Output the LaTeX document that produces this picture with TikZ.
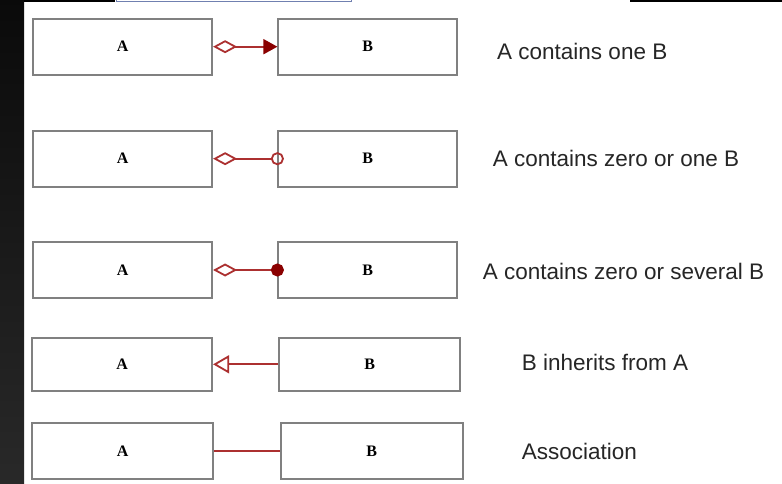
\documentclass[tikz,border=0pt]{standalone}
\usepackage{fontspec}
\setmainfont{Liberation Serif}
\newfontfamily\notefont{Liberation Sans}
\usetikzlibrary{arrows.meta}

\definecolor{umlred}{RGB}{172,48,48}
\definecolor{umldark}{RGB}{138,0,0}
\definecolor{boxgray}{RGB}{128,128,128}
\definecolor{tabblue}{RGB}{112,128,176}

\begin{document}
\begin{tikzpicture}[x=1pt,y=-1pt,
  cls/.style={draw=boxgray, line width=1.8pt, fill=white, inner sep=0pt,
    minimum width=179pt, minimum height=56pt,
    font=\fontsize{16}{19}\selectfont\bfseries},
  note/.style={anchor=base west, inner sep=0pt, text=black!85,
    font=\notefont\fontsize{22.5}{27}\selectfont},
  link/.style={draw=umlred, line width=1.8pt},
  aggr/.tip={Diamond[open, length=24pt, width=13pt]},
  navi/.tip={Triangle[length=14pt, width=15pt, color=umldark, fill=umldark]},
  zone/.tip={Circle[open, length=13pt, width=13pt]},
  many/.tip={Circle[length=13pt, width=13pt, color=umldark, fill=umldark]},
  gen/.tip={Triangle[open, length=16pt, width=18pt]}
]
  \useasboundingbox (0,0) rectangle (782,484);
  \fill[white] (0,0) rectangle (782,484);

  % screen edges
  \shade[top color=black!96, bottom color=black!84] (0,0) rectangle (24,484);
  \fill[black] (24,0) rectangle (115,2);
  \fill[black] (630,0) rectangle (782,2);
  \draw[tabblue, line width=1pt] (116,0) -- (116,2) -- (351,2) -- (351,0);

  % class boxes
  \node[cls] (a1) at (122.7,46.7) {A};
  \node[cls] (b1) at (367.8,46.7) {B};
  \node[cls] (a2) at (122.7,158.7) {A};
  \node[cls] (b2) at (367.8,158.7) {B};
  \node[cls] (a3) at (122.7,270) {A};
  \node[cls] (b3) at (367.8,270) {B};
  \node[cls, minimum width=180pt, minimum height=53pt] (a4) at (122.2,364.3) {A};
  \node[cls, minimum width=181pt, minimum height=53pt] (b4) at (369.7,364.3) {B};
  \node[cls, minimum width=181pt] (a5) at (122.7,451.2) {A};
  \node[cls, minimum width=182pt] (b5) at (371.8,451.2) {B};

  % relations
  \draw[link, aggr-navi] (a1) -- (b1);
  \draw[link, aggr-zone, shorten >=-6.5pt] (a2) -- (b2);
  \draw[link, aggr-many, shorten >=-6.5pt] (a3) -- (b3);
  \draw[link, gen-] (a4) -- (b4);
  \draw[link] (a5) -- (b5);

  % meaning of each row
  \node[note] (t1) at (497,59.3) {A contains one B};
  \node[note] (t2) at (492.7,166.7) {A contains zero or one B};
  \node[note] (t3) at (482.7,279.3) {A contains zero or several B};
  \node[note] (t4) at (521.7,370) {B inherits from A};
  \node[note] (t5) at (521.7,459.3) {Association};
\end{tikzpicture}
\end{document}
